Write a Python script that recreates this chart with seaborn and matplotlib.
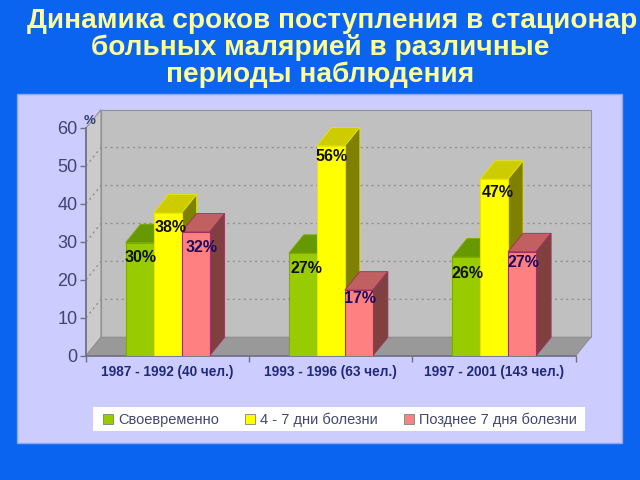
import matplotlib
matplotlib.use('Agg')
import matplotlib.pyplot as plt
import pandas as pd
import seaborn as sns
from matplotlib.patches import Polygon, Rectangle

# values
periods = ['1987 - 1992 (40 чел.)', '1993 - 1996 (63 чел.)', '1997 - 2001 (143 чел.)']
series_names = ['Своевременно', '4 - 7 дни болезни', 'Позднее 7 дня болезни']
on_time = [29.8, 27.0, 26.0]
days_4_7 = [37.6, 55.3, 46.5]
late = [32.6, 17.3, 27.4]
on_time_labels = ['30%', '27%', '26%']
days_4_7_labels = ['38%', '56%', '47%']
late_labels = ['32%', '17%', '27%']
y_ticks = [0, 10, 20, 30, 40, 50, 60]
title_lines = ['Динамика сроков поступления в стационар',
               'больных малярией в различные',
               'периоды наблюдения']

W, H = 640, 480
BLUE = '#0A64F0'
front_colors = ['#99CC00', '#FFFF00', '#FF8080']
top_colors = ['#669900', '#CCCC00', '#C06060']
side_colors = ['#4D7300', '#808000', '#804040']
edge_colors = ['#7FAA00', '#E6E600', '#A03060']
label_colors = ['#101010', '#101010', '#1A0A60']
# each data label was nudged by hand in the original (pixels right, pixels down from bar top)
label_nudges = [[(1, 15), (4, 15), (1.5, 16)],
                [(3, 14), (1, 11), (3.7, 13)],
                [(5.5, 16), (1, 8), (1, 11)]]


def fx(px):
    return px / W


def fy(py):
    return 1 - py / H


sns.set_theme(style='white')
plt.rcParams['font.family'] = ['Liberation Sans', 'DejaVu Sans']

fig = plt.figure(figsize=(6.4, 4.8), dpi=100, facecolor=BLUE)
fig.patches.append(Rectangle((fx(17), fy(443)), fx(605), 349 / H, transform=fig.transFigure,
                             facecolor='#CCCCFF', edgecolor='#8FA8F5', linewidth=1, zorder=-2))
fig.patches.append(Rectangle((fx(93), fy(431)), fx(492), 24 / H, transform=fig.transFigure,
                             facecolor='white', edgecolor='none', zorder=-1))

# axes = front plane of the 3d box
ax = fig.add_axes([fx(86), fy(355.7), fx(489.7), 227.7 / H])
ax.patch.set_alpha(0)

df = pd.DataFrame({
    'period': periods * 3,
    'series': [s for s in series_names for _ in periods],
    'value': on_time + days_4_7 + late,
})
sns.barplot(data=df, x='period', y='value', hue='series', palette=front_colors,
            width=0.515, gap=0, saturation=1, ax=ax)
ax.set_xlim(-0.5, 2.5)
ax.set_ylim(0, 60)

# depth of the box, in data units
dx = 15 / (489.7 / 3)
dy = 18.4 / (227.7 / 60)

# walls and floor
ax.add_patch(Polygon([(-0.5, 0), (-0.5 + dx, dy), (-0.5 + dx, 60 + dy), (-0.5, 60)], closed=True,
                     facecolor='#CBCBCB', edgecolor='#909090', linewidth=0.8, clip_on=False, zorder=0.5))
ax.add_patch(Rectangle((-0.5 + dx, dy), 3, 60, facecolor='#C0C0C0', edgecolor='#909090',
                       linewidth=0.8, clip_on=False, zorder=0.6))
ax.add_patch(Polygon([(-0.5, 0), (2.5, 0), (2.5 + dx, dy), (-0.5 + dx, dy)], closed=True,
                     facecolor='#999999', edgecolor='#909090', linewidth=0.8, clip_on=False, zorder=0.7))
for t in y_ticks[1:-1]:
    ax.plot([-0.5, -0.5 + dx, 2.5 + dx], [t, t + dy, t + dy], color='#909090', linewidth=1,
            linestyle=(0, (1.5, 2.5)), clip_on=False, zorder=0.8)

# 3d faces built from the bars seaborn drew
all_labels = [on_time_labels, days_4_7_labels, late_labels]
for i, container in enumerate(ax.containers):
    z = 3 + i
    for bar, text, (nx, ny) in zip(container.patches, all_labels[i], label_nudges[i]):
        x0, w, h = bar.get_x(), bar.get_width(), bar.get_height()
        bar.set_zorder(z + 0.2)
        bar.set_edgecolor(edge_colors[i])
        bar.set_linewidth(0.8)
        ax.add_patch(Polygon([(x0, h), (x0 + w, h), (x0 + w + dx, h + dy), (x0 + dx, h + dy)], closed=True,
                             facecolor=top_colors[i], edgecolor=edge_colors[i], linewidth=0.6,
                             clip_on=False, zorder=z))
        ax.add_patch(Polygon([(x0 + w, 0), (x0 + w + dx, dy), (x0 + w + dx, h + dy), (x0 + w, h)], closed=True,
                             facecolor=side_colors[i], edgecolor=edge_colors[i], linewidth=0.6,
                             clip_on=False, zorder=z + 0.1))
        ax.annotate(text, (x0 + w / 2, h), xytext=(nx, -ny), textcoords='offset pixels',
                    ha='center', va='center', fontsize=11.5, fontweight='bold',
                    color=label_colors[i], zorder=10)

# axes
for side in ['top', 'right']:
    ax.spines[side].set_visible(False)
for side in ['left', 'bottom']:
    ax.spines[side].set_color('#707080')
    ax.spines[side].set_linewidth(1.2)
ax.set_xlabel('')
ax.set_ylabel('')
ax.set_yticks(y_ticks)
ax.tick_params(axis='y', left=True, length=4, width=1, color='#707080', labelsize=13,
               labelcolor='#3F4470', pad=2)
ax.set_xticks(range(len(periods)))
ax.set_xticks([-0.5, 0.5, 1.5, 2.5], minor=True)
ax.tick_params(axis='x', which='major', bottom=False, length=0, pad=7)
ax.tick_params(axis='x', which='minor', bottom=True, length=4, width=1, color='#707080')
ax.set_xticklabels(periods, fontsize=9.8, fontweight='bold', color='#1F2A7A')

fig.text(fx(89.5), fy(121), '%', ha='center', va='center', fontsize=9.5, fontweight='bold', color='#33406E')

# legend
handles, labels = ax.get_legend_handles_labels()
ax.get_legend().remove()
leg = fig.legend(handles, labels, loc='center', ncol=3, bbox_to_anchor=(fx(340), fy(419.5)),
                 frameon=False, fontsize=10.5, handlelength=0.7, handleheight=0.7, handletextpad=0.35,
                 columnspacing=1.75, borderpad=0.2, labelcolor='#44486A')
for h, c in zip(leg.legend_handles, edge_colors):
    h.set_edgecolor('#808080')
    h.set_linewidth(0.6)

# title
title_pos = [(27, 28), (91, 55), (166, 82)]
for line, (tx, ty) in zip(title_lines, title_pos):
    fig.text(fx(tx), fy(ty), line, ha='left', va='baseline', fontsize=20.2, fontweight='bold', color='#FFFF99')

fig.savefig('out.png', dpi=100, facecolor=fig.get_facecolor())
